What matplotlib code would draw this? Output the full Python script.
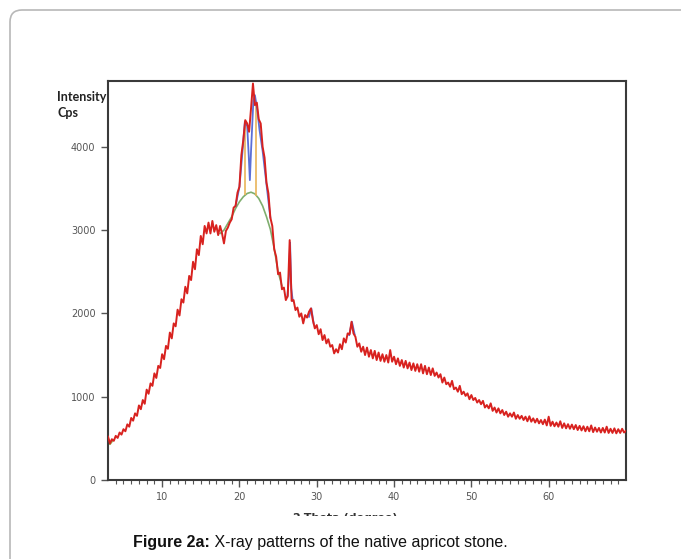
import numpy as np
import matplotlib
matplotlib.use('Agg')
import matplotlib.pyplot as plt
from matplotlib.patches import FancyBboxPatch, Rectangle
from matplotlib.transforms import IdentityTransform

# 2-theta scan, 0.25 degree step, 3..70
two_theta = np.arange(3.0, 70.001, 0.25)
intensity = [
    520, 440, 490, 470,  530, 505, 570, 545,  610, 585, 668, 640,          # 3-5
    745, 712, 800, 770,  895, 850, 960, 915,  1085, 1035, 1160, 1130,      # 6-8
    1280, 1225, 1370, 1345,  1510, 1450, 1610, 1575,  1770, 1700, 1880, 1845,  # 9-11
    2045, 1975, 2170, 2130,  2320, 2240, 2450, 2400,  2620, 2530, 2770, 2700,  # 12-14
    2930, 2830, 3050, 2960,  3090, 2960, 3110, 2980,  3060, 2940, 3050, 2960,  # 15-17
    2840, 2990, 3030, 3090,  3130, 3270, 3290, 3450,  3520, 3900, 4080, 4320,  # 18-20
    4280, 4180, 4460, 4760,  4500, 4530, 4330, 4280,  4000, 3870, 3570, 3440,  # 21-23
    3150, 3050, 2770, 2680,  2470, 2490, 2290, 2310,  2160, 2210, 2880, 2150,  # 24-26
    2160, 2040, 2070, 1960,  2000, 1880, 1980, 1950,  2020, 2060, 1920, 1820,  # 27-29
    1860, 1750, 1810, 1680,  1740, 1640, 1690, 1600,  1620, 1520, 1570, 1530,  # 30-32
    1630, 1570, 1700, 1650,  1760, 1750, 1900, 1760,  1720, 1600, 1640, 1540,  # 33-35
    1600, 1500, 1590, 1480,  1560, 1460, 1550, 1440,  1530, 1430, 1510, 1420,  # 36-38
    1500, 1410, 1560, 1420,  1480, 1390, 1460, 1370,  1440, 1350, 1430, 1340,  # 39-41
    1410, 1320, 1400, 1310,  1390, 1300, 1390, 1280,  1370, 1270, 1350, 1260,  # 42-44
    1340, 1250, 1290, 1230,  1270, 1170, 1230, 1150,  1170, 1120, 1190, 1090,  # 45-47
    1110, 1060, 1130, 1030,  1060, 1010, 1040, 970,  1020, 960, 985, 930,      # 48-50
    960, 910, 950, 870,  900, 860, 920, 830,  870, 810, 860, 800,              # 51-53
    840, 780, 820, 760,  800, 760, 810, 735,  780, 735, 770, 720,              # 54-56
    760, 705, 765, 700,  740, 690, 735, 680,  720, 670, 725, 655,              # 57-59
    760, 650, 700, 645,  690, 640, 705, 625,  680, 620, 670, 615,              # 60-62
    665, 610, 660, 600,  650, 595, 645, 585,  640, 585, 655, 575,              # 63-65
    630, 580, 625, 570,  625, 570, 640, 565,  615, 565, 620, 560,              # 66-68
    610, 565, 615, 570,  590,                                                  # 69-70
]

# amorphous background (green), shown where it separates from the scan
bg_start_x = [3.0, 3.25, 3.6]
bg_start_y = [500, 430, 475]
bg_x = [17.5, 18, 19, 19.5, 20, 20.5, 21, 21.5, 22, 22.5, 23, 23.5, 24, 24.5, 25, 25.5]
bg_y = [2960, 3000, 3160, 3260, 3340, 3400, 3440, 3455, 3435, 3380, 3290, 3160, 3010, 2780, 2500, 2330]

# fitted crystalline peaks (blue)
fit_main_x = [19.5, 20.0, 20.4, 20.7, 21.0, 21.2, 21.35, 21.5, 21.8, 22.0, 22.3, 22.6, 23.0, 23.5, 24.0]
fit_main_y = [3290, 3520, 3950, 4300, 4250, 3900, 3600, 3950, 4550, 4620, 4450, 4200, 3950, 3550, 3150]
fit_small = [
    ([26.2, 26.45, 26.55, 26.7, 26.9], [2200, 2500, 2850, 2300, 2150]),
    ([29.0, 29.3, 29.6], [1960, 2060, 1880]),
    ([34.2, 34.55, 34.9], [1740, 1900, 1750]),
]
# peak markers (orange): position, top
peak_pos = [20.7, 22.2]
peak_top = [4300, 4500]

W, H = 681, 559
fig = plt.figure(figsize=(W / 100, H / 100), dpi=100)
fig.patch.set_facecolor('white')

# rounded frame around the figure
frame = FancyBboxPatch((10, -60), 720, H - 10 + 60, boxstyle="round,pad=0,rounding_size=12",
                       transform=IdentityTransform(), facecolor='none', edgecolor='#b8b8b8', lw=1.2)
fig.add_artist(frame)

ax = fig.add_axes([108 / W, 1 - 480 / H, 518 / W, 399 / H])

ax.plot(bg_start_x, bg_start_y, color='#9aa64a', lw=1.4, zorder=2)
ax.plot(bg_x, bg_y, color='#7fae6e', lw=1.2, zorder=2)
bg_at_peaks = np.interp(peak_pos, bg_x, bg_y)
ax.vlines(peak_pos, bg_at_peaks, peak_top, color='#e9b45a', lw=1.2, zorder=2)
ax.plot(fit_main_x, fit_main_y, color='#5b6fd6', lw=1.3, zorder=3)
for fx, fy in fit_small:
    ax.plot(fx, fy, color='#5b6fd6', lw=1.3, zorder=3)
ax.plot(two_theta, intensity, color='#d8221f', lw=1.4, zorder=4)

ax.set_xlim(3, 70)
ax.set_ylim(0, 4790)
ax.set_xticks([10, 20, 30, 40, 50, 60])
ax.set_xticks(np.arange(4, 70, 1), minor=True)
ax.set_yticks([0, 1000, 2000, 3000, 4000])

tick_font = ['Liberation Sans Narrow', 'DejaVu Sans']
for lab in ax.get_xticklabels() + ax.get_yticklabels():
    lab.set_family(tick_font)
    lab.set_fontsize(7)
    lab.set_color('#555555')
ax.tick_params(axis='both', which='major', direction='out', length=5, width=1, color='#555555', pad=4)
ax.tick_params(axis='x', which='minor', direction='out', length=3, width=0.8, color='#555555')
for s in ax.spines.values():
    s.set_color('#3a3a3a')
    s.set_linewidth(1.5)

# axis titles as in the instrument export
fig.text(57 / W, 1 - 101 / H, 'Intensity', family=['Lato', 'DejaVu Sans'], fontweight='bold',
         fontsize=9, color='#222222', va='baseline')
fig.text(57 / W, 1 - 117 / H, 'Cps', family=['Lato', 'DejaVu Sans'], fontweight='bold',
         fontsize=9, color='#222222', va='baseline')

# x label, mostly hidden under the caption area
fig.text(345 / W, 1 - 513 / H, '2-Theta (degree)', family=tick_font, fontsize=8,
         fontweight='bold', color='#333333', ha='center', va='top')
fig.add_artist(Rectangle((14 / W, 0), 650 / W, 1 - 516 / H, transform=fig.transFigure,
                         facecolor='white', edgecolor='none', zorder=5))

# caption
t1 = fig.text(133 / W, 1 - 547 / H, 'Figure 2a:', family=['Liberation Sans', 'DejaVu Sans'],
              fontweight='bold', fontsize=11.5, color='#111111', va='baseline', zorder=6)
t2 = fig.text(0, 0, ' X-ray patterns of the native apricot stone.', family=['Liberation Sans', 'DejaVu Sans'],
              fontsize=11.5, color='#111111', va='baseline', zorder=6)
fig.canvas.draw()
bb = t1.get_window_extent(fig.canvas.get_renderer())
t2.set_position((bb.x1 / W, 1 - 547 / H))

fig.savefig('out.png', dpi=100)
